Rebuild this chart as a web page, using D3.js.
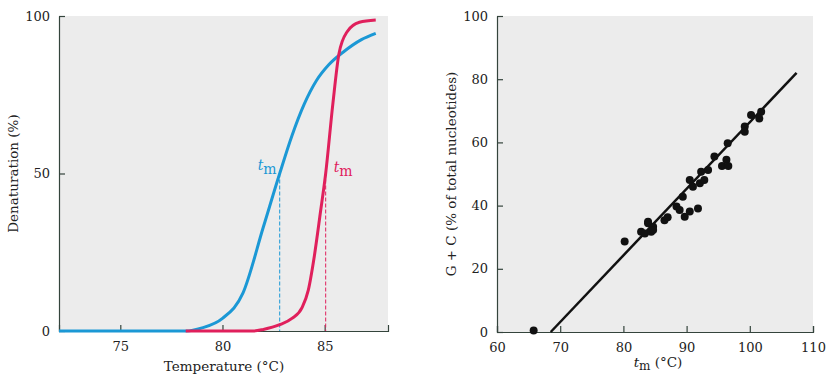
<!DOCTYPE html>
<html>
<head>
<meta charset="utf-8">
<script src="https://cdn.jsdelivr.net/npm/d3@7"></script>
<style>
  body { margin: 0; background: #fff; }
  svg text { font-family: "DejaVu Serif", serif; fill: #222; }
  .axis path, .axis line { stroke: #34443c; stroke-width: 1.2; }
  .axis text { font-size: 13px; }
</style>
</head>
<body>
<div id="chart"></div>
<script>
// melting curves (left panel)
let blueTemp = [72, 78.2, 79, 80, 81, 82, 82.8, 83.4, 84, 84.6, 85.2, 85.9, 86.8, 87.5];
let blueDen  = [0, 0, 1, 4, 12, 33, 50, 62, 72, 79.5, 84.5, 88.5, 92.5, 94.5];
let redTemp  = [78.2, 81.5, 82, 82.8, 83.4, 83.9, 84.2, 84.5, 84.8, 85.05, 85.4, 85.7, 86.1, 86.7, 87.5];
let redDen   = [0, 0, 0.5, 2, 4, 7.5, 13, 24, 38, 50, 72, 88, 95, 98, 98.7];
let blueTm = 82.8;
let redTm = 85.05;
let leftXTicks = [75, 80, 85];
let leftYTicks = [0, 50, 100];

// G+C vs tm (right panel)
let tmValues = [65.8, 80.2, 82.8, 83.4, 83.9, 84.4, 84.7, 83.9, 84.7, 86.5, 87.0, 88.4, 88.9,
                89.4, 89.7, 90.5, 91.8, 90.5, 91.0, 92.1, 92.8, 92.3, 93.4, 94.4, 95.6,
                96.3, 96.6, 96.5, 99.2, 99.2, 100.2, 101.8, 101.5];
let gcValues = [0.5, 28.6, 31.7, 31.2, 34.4, 31.7, 33.3, 34.9, 32.3, 35.4, 36.3, 39.7, 38.6,
                42.8, 36.5, 38.1, 39.1, 48.1, 46, 47.1, 48.1, 50.7, 51.3, 55.5, 52.5,
                54.5, 52.5, 59.7, 65, 63.4, 68.7, 69.7, 67.6];
let fitTm = [68.5, 107.4];
let fitGc = [0, 82];
let rightXTicks = [60, 70, 80, 90, 100, 110];
let rightYTicks = [0, 20, 40, 60, 80, 100];

let width = 832, height = 387;
let blueColor = "#1b98d5", redColor = "#e0205c";

let svg = d3.select("#chart").append("svg")
  .attr("width", width).attr("height", height);

// ---------- left panel ----------
let lx = d3.scaleLinear().domain([72, 88.1]).range([59, 388]);
let ly = d3.scaleLinear().domain([0, 100]).range([331, 16]);

svg.append("rect")
  .attr("x", lx(72)).attr("y", ly(100))
  .attr("width", lx(88.1) - lx(72)).attr("height", ly(0) - ly(100))
  .attr("fill", "#ececec");

svg.append("g").attr("class", "axis")
  .attr("transform", "translate(0," + ly(0) + ")")
  .call(d3.axisBottom(lx).tickValues(leftXTicks).tickSize(-6).tickSizeOuter(-6).tickPadding(11));

svg.append("g").attr("class", "axis")
  .attr("transform", "translate(" + lx(72) + ",0)")
  .call(d3.axisLeft(ly).tickValues(leftYTicks).tickSize(-6).tickSizeOuter(0).tickPadding(9));

let line = d3.line().curve(d3.curveMonotoneX);

// dashed tm markers
svg.append("line")
  .attr("x1", lx(blueTm)).attr("x2", lx(blueTm))
  .attr("y1", ly(50)).attr("y2", ly(0))
  .attr("stroke", blueColor).attr("stroke-width", 1).attr("stroke-dasharray", "4,2");
svg.append("line")
  .attr("x1", lx(redTm)).attr("x2", lx(redTm))
  .attr("y1", ly(50)).attr("y2", ly(0))
  .attr("stroke", redColor).attr("stroke-width", 1).attr("stroke-dasharray", "4,2");

svg.append("path")
  .attr("d", line(blueTemp.map((t, i) => [lx(t), ly(blueDen[i])])))
  .attr("fill", "none").attr("stroke", blueColor).attr("stroke-width", 3);
svg.append("path")
  .attr("d", line(redTemp.map((t, i) => [lx(t), ly(redDen[i])])))
  .attr("fill", "none").attr("stroke", redColor).attr("stroke-width", 3);

// tm labels
let bl = svg.append("text").attr("x", lx(blueTm) - 22).attr("y", ly(50) - 4)
  .style("font-size", "14px").style("fill", blueColor);
bl.append("tspan").style("font-style", "italic").style("fill", blueColor).text("t");
bl.append("tspan").attr("dy", 4).style("fill", blueColor).text("m");

let rl = svg.append("text").attr("x", lx(redTm) + 8).attr("y", ly(50) - 2)
  .style("font-size", "14px").style("fill", redColor);
rl.append("tspan").style("font-style", "italic").style("fill", redColor).text("t");
rl.append("tspan").attr("dy", 4).style("fill", redColor).text("m");

svg.append("text")
  .attr("x", 224).attr("y", 371)
  .attr("text-anchor", "middle").style("font-size", "13.5px")
  .text("Temperature (°C)");

svg.append("text")
  .attr("transform", "translate(18," + ly(50) + ") rotate(-90)")
  .attr("text-anchor", "middle").style("font-size", "13.5px")
  .text("Denaturation (%)");

// ---------- right panel ----------
let rx = d3.scaleLinear().domain([60, 110]).range([497, 813]);
let ry = d3.scaleLinear().domain([0, 100]).range([332, 16]);

svg.append("rect")
  .attr("x", rx(60)).attr("y", ry(100))
  .attr("width", rx(110) - rx(60)).attr("height", ry(0) - ry(100))
  .attr("fill", "#ececec");

svg.append("g").attr("class", "axis")
  .attr("transform", "translate(0," + ry(0) + ")")
  .call(d3.axisBottom(rx).tickValues(rightXTicks).tickSize(-6).tickSizeOuter(-6).tickPadding(11));

svg.append("g").attr("class", "axis")
  .attr("transform", "translate(" + rx(60) + ",0)")
  .call(d3.axisLeft(ry).tickValues(rightYTicks).tickSize(-6).tickSizeOuter(0).tickPadding(9));

svg.append("line")
  .attr("x1", rx(fitTm[0])).attr("y1", ry(fitGc[0]))
  .attr("x2", rx(fitTm[1])).attr("y2", ry(fitGc[1]))
  .attr("stroke", "#111").attr("stroke-width", 2.5);

svg.append("g").selectAll("circle")
  .data(tmValues)
  .enter()
  .append("circle")
  .attr("cx", (d) => rx(d))
  .attr("cy", (d, i) => ry(gcValues[i]))
  .attr("r", 4)
  .attr("fill", "#111");

let xl = svg.append("text").attr("x", 658).attr("y", 367)
  .attr("text-anchor", "middle").style("font-size", "13.5px");
xl.append("tspan").style("font-style", "italic").text("t");
xl.append("tspan").attr("dy", 3).style("font-size", "12px").text("m");
xl.append("tspan").attr("dy", -3).text(" (°C)");

svg.append("text")
  .attr("transform", "translate(456," + ry(50) + ") rotate(-90)")
  .attr("text-anchor", "middle").style("font-size", "13.5px")
  .text("G + C (% of total nucleotides)");
</script>
</body>
</html>
